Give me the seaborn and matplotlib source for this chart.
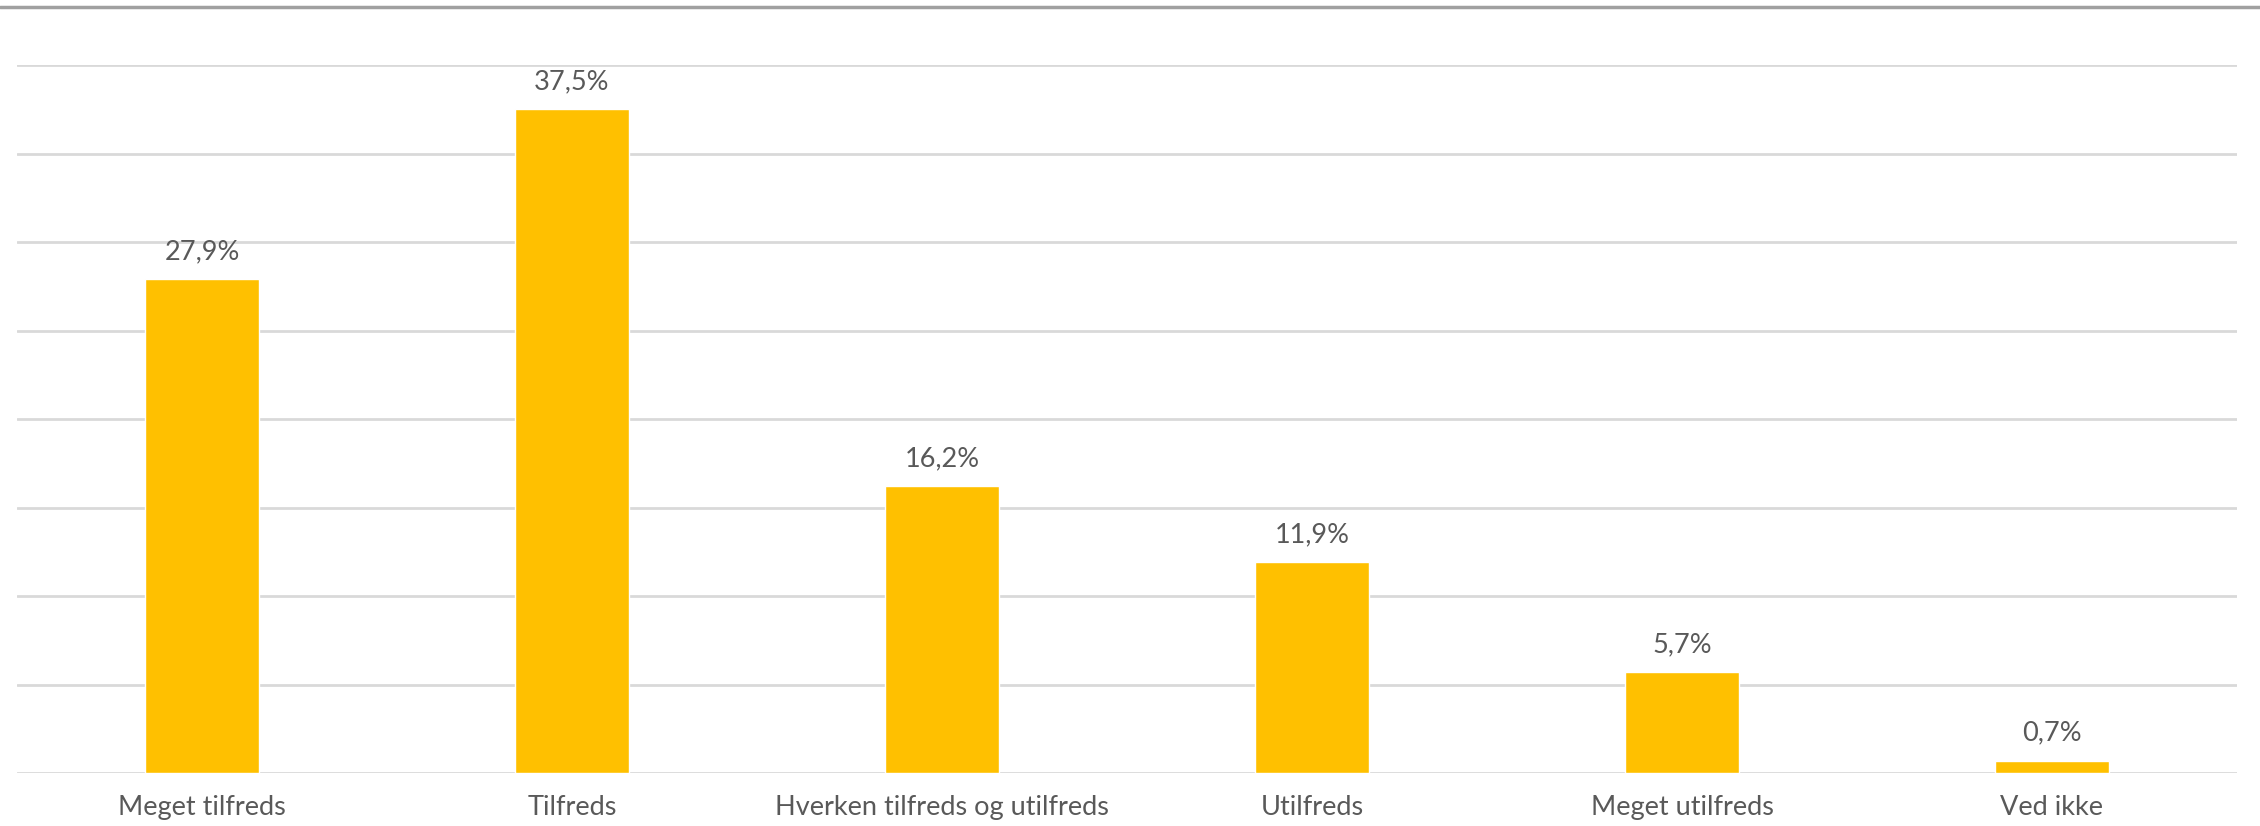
import pandas as pd
import matplotlib.pyplot as plt
import seaborn as sns
from matplotlib.lines import Line2D

# Survey answers and shares (%)
categories = ['Meget tilfreds', 'Tilfreds', 'Hverken tilfreds og utilfreds',
              'Utilfreds', 'Meget utilfreds', 'Ved ikke']
values = [27.9, 37.5, 16.2, 11.9, 5.7, 0.7]

df = pd.DataFrame({'answer': categories, 'pct': values})

sns.set_style('white')
plt.rcParams['font.family'] = ['Lato', 'DejaVu Sans']

fig = plt.figure(figsize=(22.6, 8.26), dpi=100)
ax = fig.add_axes([17 / 2260, 1 - 773 / 826, 2220 / 2260, 708 / 826])

sns.barplot(data=df, x='answer', y='pct', color='#FFC000', width=0.31,
            saturation=1, ax=ax, zorder=3)

ax.set_ylim(0, 40)
ax.set_xlim(-0.5, len(categories) - 0.5)
ax.set_yticks(range(0, 41, 5))
ax.yaxis.grid(True, color='#d9d9d9', linewidth=2)
ax.set_axisbelow(True)
ax.tick_params(axis='y', left=False, labelleft=False)
ax.tick_params(axis='x', bottom=False, labelsize=19.5, labelcolor='#595959', pad=12)
ax.set_xlabel('')
ax.set_ylabel('')
for s in ax.spines.values():
    s.set_visible(False)

for c in ax.containers:
    ax.bar_label(c, labels=[f'{v:.1f}%'.replace('.', ',') for v in values],
                 padding=11, fontsize=19.5, color='#595959')

# grey rule across the top of the image
fig.add_artist(Line2D([0, 1], [1 - 7 / 826] * 2, color='#a0a0a0', linewidth=2.5,
                      transform=fig.transFigure))

fig.savefig('out.png', dpi=100)
